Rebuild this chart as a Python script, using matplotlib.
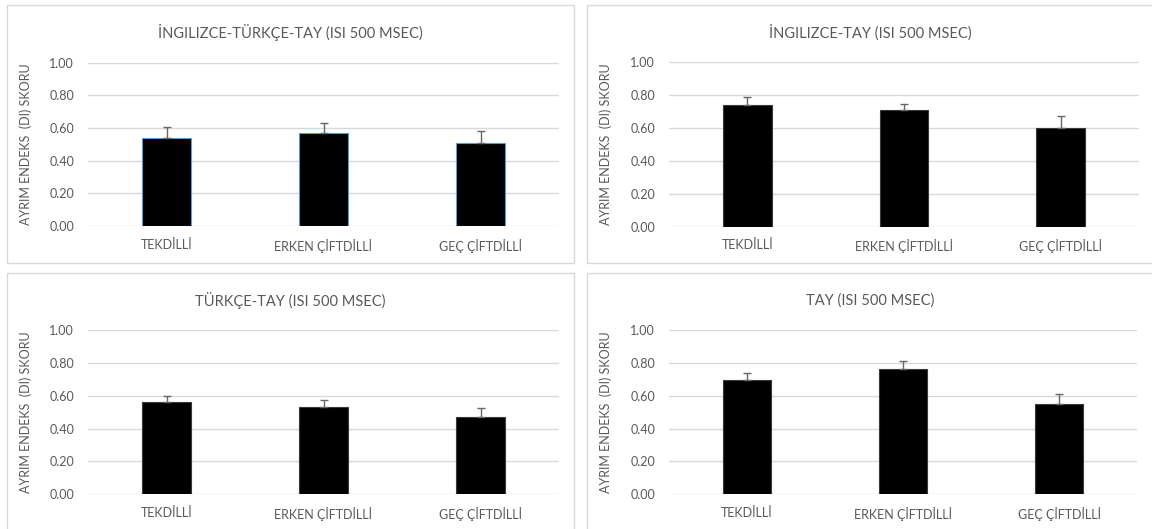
import matplotlib
matplotlib.use("Agg")
import matplotlib.pyplot as plt
from matplotlib.patches import Rectangle

plt.rcParams['font.family'] = ['Lato', 'DejaVu Sans']

# Kategoriler ve grafik başlıkları
kategoriler = ['TEKDİLLİ', 'ERKEN ÇİFTDİLLİ', 'GEÇ ÇİFTDİLLİ']
basliklar = ['İNGILIZCE-TÜRKÇE-TAY (ISI 500 MSEC)', 'İNGILIZCE-TAY (ISI 500 MSEC)',
             'TÜRKÇE-TAY (ISI 500 MSEC)', 'TAY (ISI 500 MSEC)']

# Ortalama DI skorları
ing_tr_tay = [0.54, 0.57, 0.505]
ing_tay = [0.74, 0.712, 0.602]
tr_tay = [0.56, 0.535, 0.472]
tay = [0.695, 0.767, 0.552]

# Standart hata (yalnızca yukarı doğru)
ing_tr_tay_hata = [0.067, 0.058, 0.075]
ing_tay_hata = [0.049, 0.034, 0.072]
tr_tay_hata = [0.04, 0.043, 0.055]
tay_hata = [0.042, 0.048, 0.062]

yticks = [0.0, 0.2, 0.4, 0.6, 0.8, 1.0]

W, H = 1152, 529
fig = plt.figure(figsize=(W / 100, H / 100), dpi=100)

GRI = '#595959'


def px_box(x0, y0, x1, y1):
    """Piksel (sol-üst kökenli) kutuyu figür koordinatlarına çevir"""
    return [x0 / W, 1 - y1 / H, (x1 - x0) / W, (y1 - y0) / H]


# panel çerçevesi (sol, üst) ve eksen alanı (x0, y0, x1, y1)
paneller = [
    ((7, 4.5), (88, 62.5, 559, 226)),
    ((587, 4.5), (669, 62.5, 1139, 226.5)),
    ((7, 272.5), (88, 330.3, 559, 494.3)),
    ((587, 272.5), (669, 330.3, 1137, 494.3)),
]
veriler = [ing_tr_tay, ing_tay, tr_tay, tay]
hatalar = [ing_tr_tay_hata, ing_tay_hata, tr_tay_hata, tay_hata]
kenar_renk = ['#5b9bd5', '#3a3a3a', '#3a3a3a', '#3a3a3a']

for i in range(4):
    (bx, by), eks = paneller[i]
    pw, ph = 567, 258
    fig.patches.append(Rectangle((bx / W, 1 - (by + ph) / H), pw / W, ph / H,
                                 transform=fig.transFigure, facecolor='none',
                                 edgecolor='#d9d9d9', linewidth=1, zorder=-1))
    fig.text((bx + pw / 2) / W, 1 - (by + 28) / H, basliklar[i],
             ha='center', va='center', fontsize=10.5, color=GRI)

    ax = fig.add_axes(px_box(*eks))
    ax.set_facecolor('none')
    x = range(len(kategoriler))
    ax.bar(x, veriler[i], width=0.31, color='black', edgecolor=kenar_renk[i],
           linewidth=0.8, zorder=2)
    ax.errorbar(x, veriler[i], yerr=[[0, 0, 0], hatalar[i]], fmt='none',
                ecolor='#666666', elinewidth=1, capsize=3, capthick=1, zorder=3)

    ax.set_xlim(-0.5, 2.5)
    ax.set_ylim(0, 1.0)
    ax.set_yticks(yticks)
    ax.set_yticklabels([f'{v:.2f}' for v in yticks])
    ax.set_xticks(list(x))
    ax.set_xticklabels(kategoriler)
    ax.tick_params(axis='both', length=0, labelsize=9, colors=GRI)
    ax.tick_params(axis='y', pad=10)
    ax.tick_params(axis='x', pad=9)
    ax.grid(axis='y', color='#d9d9d9', linewidth=1, zorder=0)
    ax.set_axisbelow(True)
    for s in ax.spines.values():
        s.set_visible(False)
    ax.set_ylabel('AYRIM ENDEKS  (DI) SKORU', fontsize=9, color=GRI)
    # eksen başlığı panel çerçevesinin solundan ~25 px içeride
    ax.yaxis.set_label_coords((bx + 25 - eks[0]) / (eks[2] - eks[0]), 0.5)

fig.savefig('out.png', dpi=100)
